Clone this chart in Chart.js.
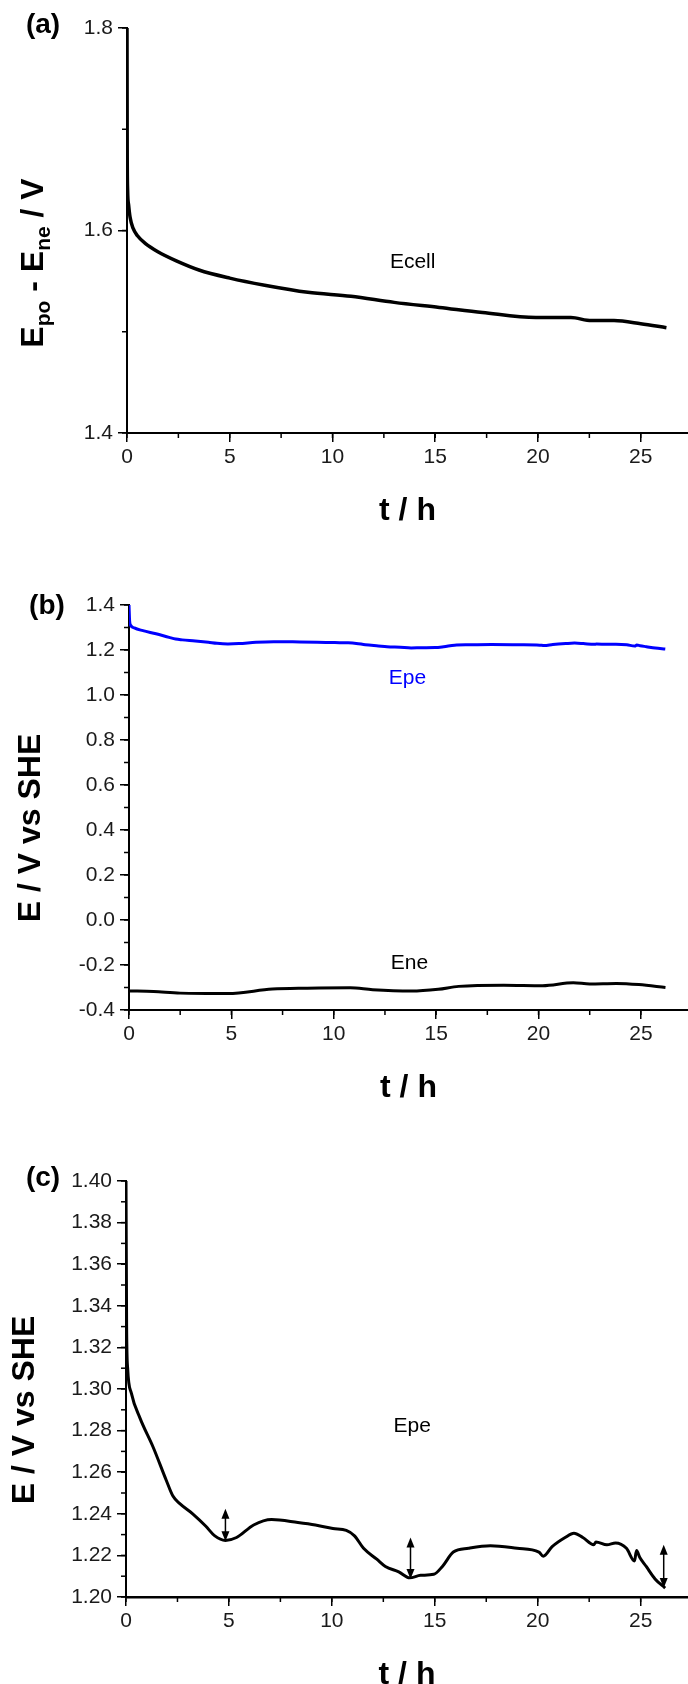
<!DOCTYPE html>
<html>
<head>
<meta charset="utf-8">
<script src="https://cdn.jsdelivr.net/npm/chart.js@4.4.1/dist/chart.umd.min.js"></script>
<style>
    html, body { margin: 0; padding: 0; background: #fff; }
    canvas { position: absolute; left: 0; }
    #cell-chart { top: 0; }
    #electrode-chart { top: 560px; }
    #positive-chart { top: 1120px; }
</style>
</head>
<body>
<canvas id="cell-chart" width="688" height="560"></canvas>
<canvas id="electrode-chart" width="688" height="560"></canvas>
<canvas id="positive-chart" width="688" height="564"></canvas>
<script>
// (a) cell voltage
const cellTime = [0, 0.01, 0.03, 0.08, 0.15, 0.3, 0.5, 0.9, 1.5, 2.4, 3.5, 5, 6.7, 8.8, 10.9, 13, 15.2, 17.3, 19.9, 21.6, 22.6, 23.7, 25, 26.25];
const cellVolt = [1.80, 1.68, 1.64, 1.625, 1.613, 1.602, 1.595, 1.587, 1.579, 1.570, 1.561, 1.553, 1.546, 1.539, 1.535, 1.529, 1.524, 1.519, 1.514, 1.514, 1.511, 1.511, 1.508, 1.504];

// positive electrode (used in b and c)
const epeTime = [0, 0.03, 0.08, 0.26, 0.68, 1.32, 1.96, 2.28, 2.6, 3.24, 3.88, 4.3, 4.83, 5.37, 6.2, 7.07, 8.35, 9.2, 10.05, 10.7, 11.1, 11.54, 12.18, 12.6, 13.25, 13.78, 14.31, 14.95, 15.37, 15.9, 16.64, 17.7, 19.0, 20.06, 20.27, 20.7, 21.33, 21.76, 22.19, 22.72, 22.83, 23.36, 23.78, 24.31, 24.7, 24.8, 24.96, 25.27, 25.7, 26.19];
const epeVolt = [1.40, 1.33, 1.31, 1.298, 1.286, 1.272, 1.256, 1.2485, 1.245, 1.240, 1.234, 1.2295, 1.2272, 1.2286, 1.2346, 1.2372, 1.2358, 1.2346, 1.2329, 1.232, 1.2294, 1.2234, 1.2182, 1.2147, 1.2121, 1.2092, 1.2104, 1.2109, 1.2147, 1.2216, 1.2234, 1.2246, 1.2234, 1.2216, 1.2196, 1.2242, 1.2286, 1.2307, 1.2286, 1.2251, 1.2265, 1.2251, 1.226, 1.2234, 1.2173, 1.2223, 1.219, 1.2147, 1.2087, 1.2043];

// negative electrode
const eneTime = [0, 1.2, 2.5, 4.84, 7, 8.7, 10.8, 11.9, 13.8, 15.1, 16.1, 18.3, 20.2, 21.7, 22.5, 23.8, 24.9, 26.2];
const eneVolt = [-0.315, -0.318, -0.325, -0.327, -0.307, -0.303, -0.301, -0.31, -0.316, -0.308, -0.295, -0.290, -0.292, -0.279, -0.284, -0.282, -0.287, -0.300];

// double arrows in (c)
const arrowTime = [4.83, 13.82, 26.12];
const arrowLow = [1.2268, 1.2087, 1.2043];
const arrowHigh = [1.2424, 1.2286, 1.2251];

const timeTicks = [0, 5, 10, 15, 20, 25];

const FONT = '"Liberation Sans", Arial, sans-serif';

function points(xs, ys) {
    return xs.map((x, i) => ({ x: x, y: ys[i] }));
}

// minor ticks, titles, notes, arrows
const decorPlugin = {
    id: 'decor',
    afterDraw(chart, args, opts) {
        const ctx = chart.ctx;
        const xs = chart.scales.x, ys = chart.scales.y;
        const area = chart.chartArea;
        ctx.save();
        ctx.strokeStyle = '#000';
        ctx.lineWidth = 1.5;
        for (let v = xs.min; v <= xs.max + 1e-9; v += opts.minorX) {
            const px = xs.getPixelForValue(v);
            ctx.beginPath();
            ctx.moveTo(px, area.bottom);
            ctx.lineTo(px, area.bottom + 5);
            ctx.stroke();
        }
        for (let v = ys.min; v <= ys.max + 1e-9; v += opts.minorY) {
            const py = ys.getPixelForValue(v);
            ctx.beginPath();
            ctx.moveTo(area.left - 5, py);
            ctx.lineTo(area.left, py);
            ctx.stroke();
        }

        ctx.fillStyle = '#000';
        ctx.textBaseline = 'middle';
        ctx.textAlign = 'center';
        ctx.font = 'bold 28px ' + FONT;
        ctx.fillText(opts.label, opts.labelPos[0], opts.labelPos[1]);

        ctx.font = 'bold 32px ' + FONT;
        ctx.fillText('t / h', (area.left + area.right) / 2, area.bottom + 78);

        // rotated y title built from pieces (sub = subscript)
        ctx.save();
        ctx.translate(opts.yTitlePos[0], opts.yTitlePos[1]);
        ctx.rotate(-Math.PI / 2);
        ctx.textAlign = 'left';
        ctx.textBaseline = 'alphabetic';
        let total = 0;
        opts.yTitle.forEach(f => {
            ctx.font = 'bold ' + (f.sub ? 21 : 32) + 'px ' + FONT;
            total += ctx.measureText(f.text).width;
        });
        let cx = -total / 2;
        opts.yTitle.forEach(f => {
            ctx.font = 'bold ' + (f.sub ? 21 : 32) + 'px ' + FONT;
            ctx.fillText(f.text, cx, f.sub ? 7 : 0);
            cx += ctx.measureText(f.text).width;
        });
        ctx.restore();

        ctx.font = '21px ' + FONT;
        ctx.textAlign = 'center';
        opts.notes.forEach(n => {
            ctx.fillStyle = n.color;
            ctx.fillText(n.text, xs.getPixelForValue(n.t), ys.getPixelForValue(n.v));
        });

        if (opts.arrows) {
            ctx.strokeStyle = '#000';
            ctx.fillStyle = '#000';
            ctx.lineWidth = 1.5;
            opts.arrows.time.forEach((t, i) => {
                const px = xs.getPixelForValue(t);
                const lo = ys.getPixelForValue(opts.arrows.low[i]);
                const hi = ys.getPixelForValue(opts.arrows.high[i]);
                ctx.beginPath();
                ctx.moveTo(px, lo - 6);
                ctx.lineTo(px, hi + 6);
                ctx.stroke();
                ctx.beginPath();
                ctx.moveTo(px, hi);
                ctx.lineTo(px - 4, hi + 10);
                ctx.lineTo(px + 4, hi + 10);
                ctx.closePath();
                ctx.fill();
                ctx.beginPath();
                ctx.moveTo(px, lo);
                ctx.lineTo(px - 4, lo - 10);
                ctx.lineTo(px + 4, lo - 10);
                ctx.closePath();
                ctx.fill();
            });
        }
        ctx.restore();
    }
};

function makeChart(id, datasets, cfg) {
    return new Chart(document.getElementById(id), {
        type: 'line',
        data: { datasets: datasets },
        options: {
            responsive: false,
            animation: false,
            layout: { padding: { top: cfg.top, left: 0, right: 0, bottom: 0 } },
            elements: { point: { radius: 0 }, line: { tension: 0.3, cubicInterpolationMode: 'monotone' } },
            plugins: {
                legend: { display: false },
                tooltip: { enabled: false },
                decor: cfg.decor
            },
            scales: {
                x: {
                    type: 'linear',
                    min: 0,
                    max: 27.3,
                    afterBuildTicks: s => { s.ticks = timeTicks.map(v => ({ value: v })); },
                    afterFit: s => { s.height = cfg.xHeight; },
                    grid: { drawOnChartArea: false, tickLength: 9, tickColor: '#000', lineWidth: 1.5 },
                    border: { color: '#000', width: cfg.xBorder || 2 },
                    ticks: { color: '#1a1a1a', padding: 3, maxRotation: 0, font: { family: FONT, size: 21 } }
                },
                y: {
                    type: 'linear',
                    min: cfg.yMin,
                    max: cfg.yMax,
                    afterBuildTicks: s => { s.ticks = cfg.yTicks.map(v => ({ value: v })); },
                    afterFit: s => { s.width = cfg.yWidth; },
                    grid: { drawOnChartArea: false, tickLength: 9, tickColor: '#000', lineWidth: 1.5 },
                    border: { color: '#000', width: 2 },
                    ticks: {
                        color: '#1a1a1a', padding: 5, font: { family: FONT, size: 21 },
                        callback: v => v.toFixed(cfg.digits)
                    }
                }
            }
        },
        plugins: [decorPlugin]
    });
}

makeChart('cell-chart', [{
    data: points(cellTime, cellVolt), borderColor: '#000', borderWidth: 3.5
}], {
    top: 28, xHeight: 127, yWidth: 127, yMin: 1.4, yMax: 1.8, digits: 1,
    yTicks: [1.4, 1.6, 1.8],
    decor: {
        minorX: 2.5, minorY: 0.1, label: '(a)', labelPos: [43, 25],
        yTitlePos: [43, 263],
        yTitle: [{ text: 'E' }, { text: 'po', sub: true }, { text: ' - E' }, { text: 'ne', sub: true }, { text: ' / V' }],
        notes: [{ text: 'Ecell', t: 13.9, v: 1.569, color: '#000' }]
    }
});

makeChart('electrode-chart', [{
    data: points(epeTime, epeVolt), borderColor: '#0000ff', borderWidth: 3
}, {
    data: points(eneTime, eneVolt), borderColor: '#000', borderWidth: 3
}], {
    top: 45, xHeight: 110, yWidth: 129, yMin: -0.4, yMax: 1.4, digits: 1,
    yTicks: [-0.4, -0.2, 0, 0.2, 0.4, 0.6, 0.8, 1.0, 1.2, 1.4],
    decor: {
        minorX: 2.5, minorY: 0.1, label: '(b)', labelPos: [47, 46],
        yTitlePos: [40, 268],
        yTitle: [{ text: 'E / V vs SHE' }],
        notes: [
            { text: 'Epe', t: 13.6, v: 1.074, color: '#0000ff' },
            { text: 'Ene', t: 13.7, v: -0.191, color: '#000' }
        ]
    }
});

makeChart('positive-chart', [{
    data: points(epeTime, epeVolt), borderColor: '#000', borderWidth: 3
}], {
    top: 61, xHeight: 87, yWidth: 126, yMin: 1.2, yMax: 1.4, digits: 2, xBorder: 2.5,
    yTicks: [1.20, 1.22, 1.24, 1.26, 1.28, 1.30, 1.32, 1.34, 1.36, 1.38, 1.40],
    decor: {
        minorX: 2.5, minorY: 0.01, label: '(c)', labelPos: [43, 58],
        yTitlePos: [34, 290],
        yTitle: [{ text: 'E / V vs SHE' }],
        notes: [{ text: 'Epe', t: 13.9, v: 1.282, color: '#000' }],
        arrows: { time: arrowTime, low: arrowLow, high: arrowHigh }
    }
});
</script>
</body>
</html>
